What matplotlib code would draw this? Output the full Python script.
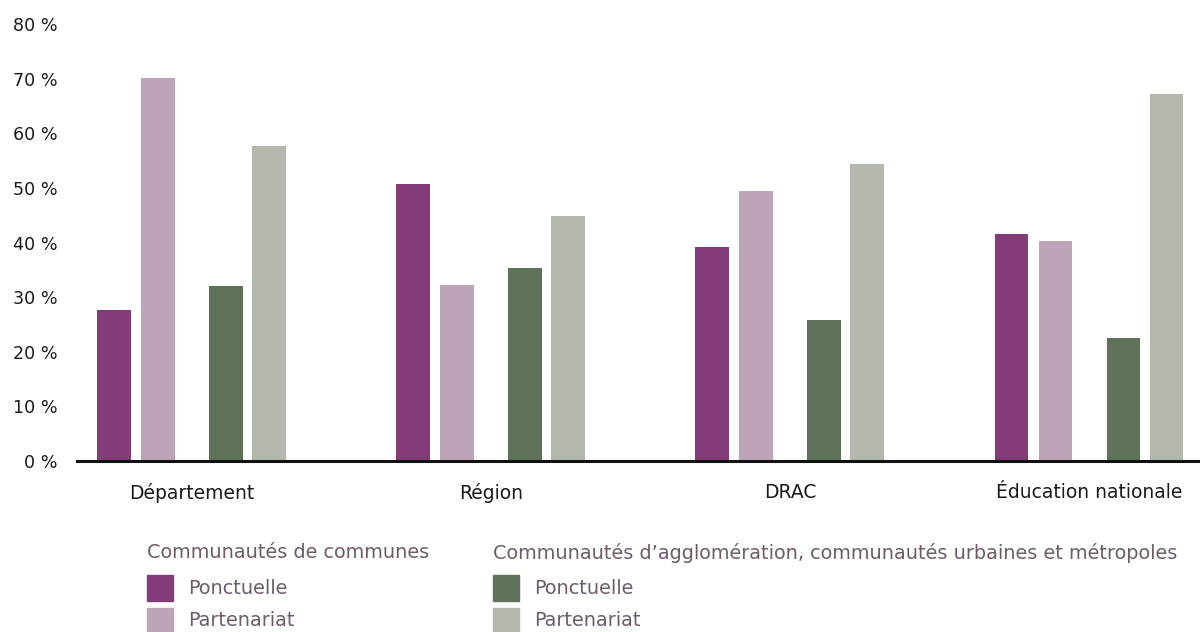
import numpy as np
import matplotlib.pyplot as plt
from matplotlib.patches import Rectangle

plt.rcParams['font.family'] = ['DejaVu Sans']

categories = ['Département', 'Région', 'DRAC', 'Éducation nationale']
cc_ponctuelle = [27.6, 50.7, 39.2, 41.6]
cc_partenariat = [70.1, 32.2, 49.4, 40.3]
ca_ponctuelle = [32.0, 35.3, 25.8, 22.5]
ca_partenariat = [57.7, 44.9, 54.4, 67.2]
yticks = [0, 10, 20, 30, 40, 50, 60, 70, 80]

groups = ['Communautés de communes',
          'Communautés d\u2019agglomération, communautés urbaines et métropoles']
series_labels = ['Ponctuelle', 'Partenariat']
colors = ['#833B7A', '#BEA4B8', '#5D7259', '#B3B8AD']

fig = plt.figure(figsize=(12, 6.32), dpi=100)
ax = fig.add_axes([77 / 1200, 171 / 632, 1 - 77 / 1200, (461 - 24) / 632])

x = np.arange(len(categories))
w = 0.113
offsets = [-0.259, -0.112, 0.115, 0.259]
series = [cc_ponctuelle, cc_partenariat, ca_ponctuelle, ca_partenariat]
for off, vals, c in zip(offsets, series, colors):
    ax.bar(x + off, vals, width=w, color=c, zorder=2)

ax.set_xlim(-0.383, 3.371)
ax.set_ylim(0, 80)
ax.set_yticks(yticks)
ax.set_yticklabels([f'{t} %' for t in yticks], fontsize=12.6, color='#1a1a1a')
ax.set_xticks(x)
ax.set_xticklabels(categories, fontsize=13.5, color='#1a1a1a')
ax.tick_params(axis='y', length=0, pad=14)
ax.tick_params(axis='x', length=0, pad=16)
for s in ['top', 'right', 'left']:
    ax.spines[s].set_visible(False)
ax.spines['bottom'].set_linewidth(2.2)
ax.spines['bottom'].set_color('#111111')
ax.spines['bottom'].set_zorder(3)

# legend drawn by hand, two columns
leg_color = '#6f5b6c'
col_x = [147, 493]
for i, title in enumerate(groups):
    fig.text(col_x[i] / 1200, 1 - 553 / 632, title, fontsize=13.9, color=leg_color,
             va='center', ha='left')
    for j, lab in enumerate(series_labels):
        yc = [588, 621][j]
        fig.add_artist(Rectangle((col_x[i] / 1200, 1 - (yc + 13) / 632), 26 / 1200, 26 / 632,
                                 transform=fig.transFigure, color=colors[i * 2 + j]))
        fig.text((col_x[i] + 41) / 1200, 1 - yc / 632, lab, fontsize=13.9, color=leg_color,
                 va='center', ha='left')

fig.savefig('out.png', dpi=100)
